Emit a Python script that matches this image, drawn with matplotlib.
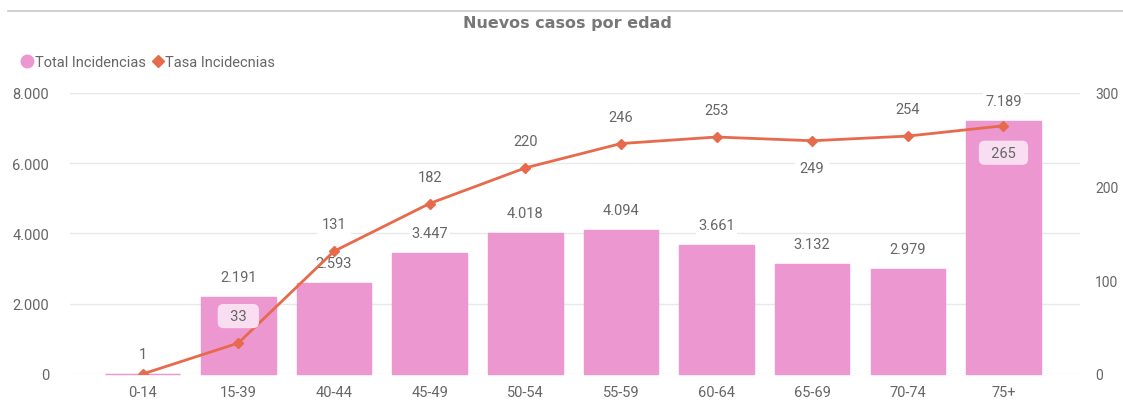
import matplotlib
matplotlib.use("Agg")
import matplotlib.pyplot as plt
from matplotlib.lines import Line2D

plt.rcParams["font.family"] = ["Roboto", "DejaVu Sans"]

# --- Data ---
AGE_GROUPS = ["0-14", "15-39", "40-44", "45-49", "50-54", "55-59",
              "60-64", "65-69", "70-74", "75+"]
TOTAL_CASES = [1, 2191, 2593, 3447, 4018, 4094, 3661, 3132, 2979, 7189]
RATE = [0, 33, 131, 182, 220, 246, 253, 249, 254, 265]
# label position for the rate: +1 above the point, -1 below, 0 hidden
RATE_LABEL_POS = [0, 1, 1, 1, 1, 1, 1, -1, 1, -1]

BAR_COLOR = "#EC97D0"
LINE_COLOR = "#E66A4B"
TEXT_COLOR = "#666666"
GRID_COLOR = "#E8E8E8"


def fmt_thousands(v):
    return f"{v:,.0f}".replace(",", ".")


fig = plt.figure(figsize=(11.23, 4.06), dpi=100)
ax = fig.add_axes([0.0623, 0.0764, 0.8994, 0.6921])
ax2 = ax.twinx()

x = list(range(len(AGE_GROUPS)))

# bars (tiny values still drawn as a thin visible sliver)
bars = ax.bar(x, TOTAL_CASES, width=0.78, color=BAR_COLOR, zorder=2,
              edgecolor=BAR_COLOR, linewidth=1)
for b in bars:
    b.set_clip_on(False)
ax.set_ylim(0, 8000)
ax.set_yticks([0, 2000, 4000, 6000, 8000])
ax.set_yticklabels([fmt_thousands(v) for v in [0, 2000, 4000, 6000, 8000]])
ax.set_xlim(-0.76, 9.8)
ax.set_xticks(x)
ax.set_xticklabels(AGE_GROUPS)
ax.grid(axis="y", color=GRID_COLOR, linewidth=1, zorder=0)
ax.set_axisbelow(True)

for xi, v in zip(x, TOTAL_CASES):
    ax.annotate(fmt_thousands(v), (xi, v), xytext=(0, 20), textcoords="offset pixels",
                ha="center", va="center", fontsize=10.5, color=TEXT_COLOR, zorder=5,
                bbox=dict(boxstyle="square,pad=0.15", fc="white", ec="none"))

# line
ax2.plot(x, RATE, color=LINE_COLOR, lw=2, marker="D", markersize=5.5, zorder=4)
ax2.set_ylim(0, 300)
ax2.set_yticks([0, 100, 200, 300])

for xi, v, pos in zip(x, RATE, RATE_LABEL_POS):
    if pos == 0:
        continue
    inside_bar = (pos == -1 and v * 8000 / 300 < TOTAL_CASES[xi]) or xi == 1
    fc = "#F9DEF1" if inside_bar else "white"
    txt = f"  {v}  " if inside_bar else str(v)
    ax2.annotate(txt, (xi, v), xytext=(0, 27 * pos), textcoords="offset pixels",
                 ha="center", va="center", fontsize=10.5, color=TEXT_COLOR, zorder=6,
                 bbox=dict(boxstyle="round,pad=0.35,rounding_size=0.4", fc=fc, ec="none"))

for a in (ax, ax2):
    for s in a.spines.values():
        s.set_visible(False)
    a.tick_params(length=0, colors=TEXT_COLOR, labelsize=10.5)
ax.tick_params(axis="y", pad=15)
ax2.tick_params(axis="y", pad=11, labelsize=10)
ax.tick_params(axis="x", pad=8)

# title, top rule, legend
fig.text(0.505, 0.941, "Nuevos casos por edad", ha="center", va="center",
         fontsize=11.5, fontweight="bold", color="#777777", family="DejaVu Sans")
fig.add_artist(Line2D([0.007, 1.0], [0.970, 0.970], color="#C8C8C8", lw=1.2))

handles = [
    Line2D([], [], ls="none", marker="o", markersize=9, color=BAR_COLOR),
    Line2D([], [], ls="none", marker="D", markersize=6.5, color=LINE_COLOR),
]
fig.legend(handles, ["Total Incidencias", "Tasa Incidecnias"], loc="center left",
           bbox_to_anchor=(0.008, 1 - 63 / 406), ncol=2, frameon=False,
           handlelength=0.7, handletextpad=0.15, columnspacing=0.5,
           fontsize=10.5, labelcolor=TEXT_COLOR)

fig.savefig("out.png", dpi=100)
